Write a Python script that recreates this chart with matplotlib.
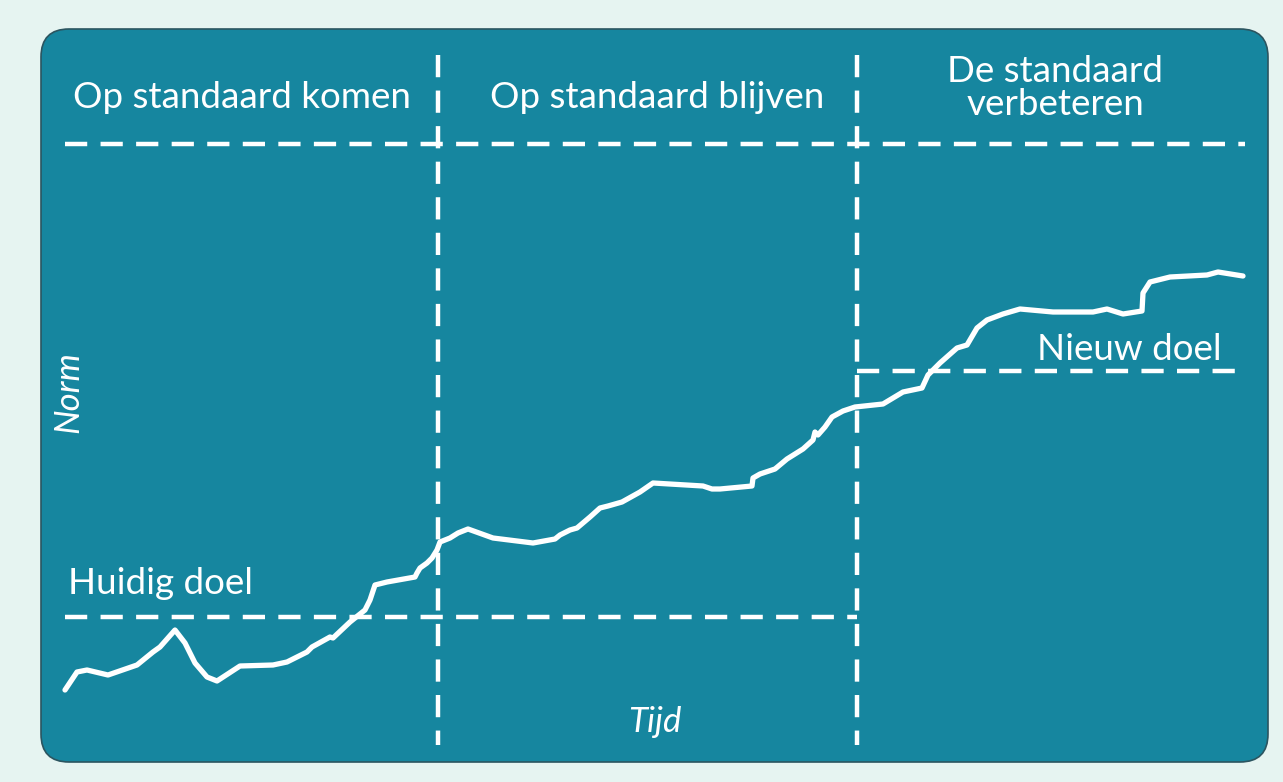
import matplotlib.pyplot as plt
from matplotlib.patches import FancyBboxPatch

plt.rcParams["font.family"] = ["Lato", "DejaVu Sans"]

# Curve of the norm over time (pixel-like units)
tijd = [65, 77, 87, 108, 137, 153, 160, 175, 185, 195, 207, 217, 240, 273, 287,
        307, 312, 330, 333, 350, 365, 370, 375, 387, 415, 417, 420, 427, 432, 437,
        440, 450, 458, 468, 493, 533, 555, 560, 570, 577, 590, 600, 608, 622, 640,
        653, 703, 712, 720, 752, 753, 760, 775, 787, 803, 813, 815, 818, 825, 832,
        843, 855, 883, 903, 922, 928, 940, 957, 967, 977, 987, 1003, 1020, 1053,
        1093, 1107, 1123, 1142, 1143, 1150, 1170, 1207, 1218, 1243]
norm = [690, 672, 670, 675, 665, 652, 647, 630, 643, 663, 677, 681, 666, 665, 662,
        652, 647, 637, 638, 622, 610, 600, 585, 582, 577, 573, 568, 563, 558, 550,
        542, 538, 533, 529, 538, 543, 539, 535, 530, 528, 517, 508, 506, 502, 492,
        483, 486, 489, 489, 486, 478, 474, 469, 459, 449, 440, 432, 435, 427, 417,
        411, 407, 404, 392, 388, 375, 363, 348, 345, 328, 320, 314, 309, 312,
        312, 309, 314, 311, 293, 282, 277, 275, 272, 276]

# Phase boundaries and goal levels
fase_grenzen = [438, 857]
fase_titels = ["Op standaard komen", "Op standaard blijven", "De standaard\nverbeteren"]
fase_midden = [242, 657, 1055]
kop_lijn = 144
huidig_doel = 617
nieuw_doel = 371

bg = "#e6f4f1"
teal = "#16869f"
wit = "white"

fig = plt.figure(figsize=(12.83, 7.82), dpi=100, facecolor=bg)
ax = fig.add_axes([0, 0, 1, 1])
ax.set_xlim(0, 1283)
ax.set_ylim(782, 0)
ax.axis("off")

frame = FancyBboxPatch((41, 29), 1227, 733, boxstyle="round,pad=0,rounding_size=28",
                       facecolor=teal, edgecolor="#2b5560", linewidth=1.2)
ax.add_patch(frame)

dash = dict(color=wit, linewidth=3.2, linestyle=(0, (5, 3)))
ax.plot([65, 1245], [kop_lijn, kop_lijn], **dash)
for x in fase_grenzen:
    ax.plot([x, x], [55, 745], **dash)
ax.plot([65, fase_grenzen[1]], [huidig_doel, huidig_doel], **dash)
ax.plot([fase_grenzen[1], 1248], [nieuw_doel, nieuw_doel], **dash)

ax.plot(tijd, norm, color=wit, linewidth=3.8, solid_joinstyle="round", solid_capstyle="round")

for titel, xm in zip(fase_titels, fase_midden):
    ax.text(xm, 97 if "\n" not in titel else 88, titel, color=wit, fontsize=26.5,
            ha="center", va="center", linespacing=1.0)

ax.text(68, 584, "Huidig doel", color=wit, fontsize=26.5, ha="left", va="center")
ax.text(1222, 350, "Nieuw doel", color=wit, fontsize=26.5, ha="right", va="center")
ax.text(68, 392, "Norm", color=wit, fontsize=25, style="italic", rotation=90,
        ha="center", va="center")
ax.text(655, 722, "Tijd", color=wit, fontsize=25, style="italic", ha="center", va="center")

fig.savefig("out.png", dpi=100, facecolor=bg)
